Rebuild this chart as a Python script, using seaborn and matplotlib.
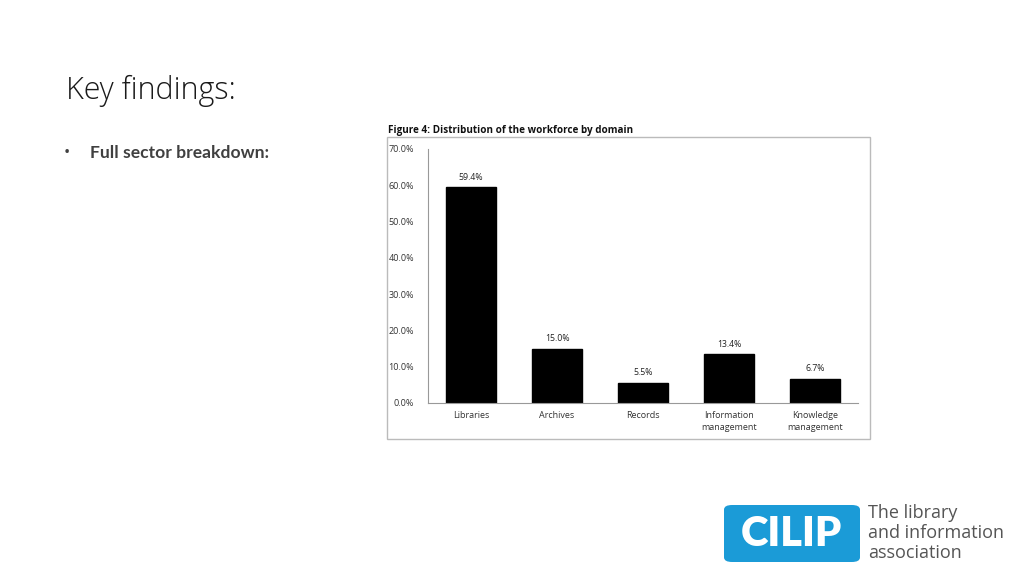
import matplotlib
matplotlib.use("Agg")
import matplotlib.pyplot as plt
import seaborn as sns
import pandas as pd
from matplotlib.patches import Rectangle, FancyBboxPatch

# Data
domains = ["Libraries", "Archives", "Records", "Information\nmanagement", "Knowledge\nmanagement"]
shares = [59.4, 15.0, 5.5, 13.4, 6.7]
y_ticks = [0, 10, 20, 30, 40, 50, 60, 70]

df = pd.DataFrame({"domain": domains, "share": shares})

sns.set_theme(style="white")
plt.rcParams["font.family"] = ["Open Sans", "DejaVu Sans"]

fig = plt.figure(figsize=(10.24, 5.76), dpi=100)
fig.patch.set_facecolor("white")

# Slide heading
fig.text(66 / 1024, 1 - 91 / 576, "Key findings:", fontsize=22, color="#1a1a1a",
         va="center", ha="left", fontweight="light")
fig.text(64 / 1024, 1 - 153 / 576, "\u2022", fontsize=12, color="#404040", va="center", ha="left")
fig.text(90 / 1024, 1 - 153 / 576, "Full sector breakdown:", fontsize=12.6, color="#404040",
         va="center", ha="left", fontweight="bold", family=["Lato", "DejaVu Sans"])

# Embedded figure border and caption
fig.patches.append(Rectangle((387 / 1024, 1 - 439 / 576), (870 - 387) / 1024, (439 - 137) / 576,
                             transform=fig.transFigure, fill=False, edgecolor="#bbbbbb", lw=1))
fig.text(388 / 1024, 1 - 130 / 576, "Figure 4: Distribution of the workforce by domain",
         fontsize=7.1, fontweight="bold", color="#111111", va="center", ha="left")

ax = fig.add_axes([428 / 1024, 1 - 403 / 576, 430 / 1024, (403 - 149) / 576])
sns.barplot(data=df, x="domain", y="share", color="black", width=0.58, ax=ax,
            saturation=1, edgecolor="black")
ax.set_ylim(0, 70)
ax.set_yticks(y_ticks)
ax.set_yticklabels([f"{t:.1f}%" for t in y_ticks])
ax.set_xlabel("")
ax.set_ylabel("")
ax.bar_label(ax.containers[0], labels=[f"{v:.1f}%" for v in shares], padding=4,
             fontsize=6.3, color="#222222")
ax.tick_params(axis="both", labelsize=6.5, colors="#333333", length=0)
ax.tick_params(axis="y", pad=10)
ax.tick_params(axis="x", pad=6)
for lbl in ax.get_xticklabels():
    lbl.set_linespacing(1.35)
for side in ["top", "right"]:
    ax.spines[side].set_visible(False)
for side in ["left", "bottom"]:
    ax.spines[side].set_color("#999999")
    ax.spines[side].set_linewidth(0.8)

# CILIP logo
fig.patches.append(FancyBboxPatch((724 / 1024, 1 - 562 / 576), (860 - 724) / 1024, (562 - 505) / 576,
                                  boxstyle="round,pad=0,rounding_size=0.008",
                                  transform=fig.transFigure, facecolor="#1b9bd7", edgecolor="none"))
fig.text(791 / 1024, 1 - 534 / 576, "CILIP", fontsize=30, fontweight="heavy", color="white",
         ha="center", va="center", family=["Lato", "DejaVu Sans"])
for i, line in enumerate(["The library", "and information", "association"]):
    fig.text(868 / 1024, 1 - (513 + i * 20) / 576, line, fontsize=13, color="#555555",
             ha="left", va="center", fontweight="medium")

fig.savefig("out.png", dpi=100)
